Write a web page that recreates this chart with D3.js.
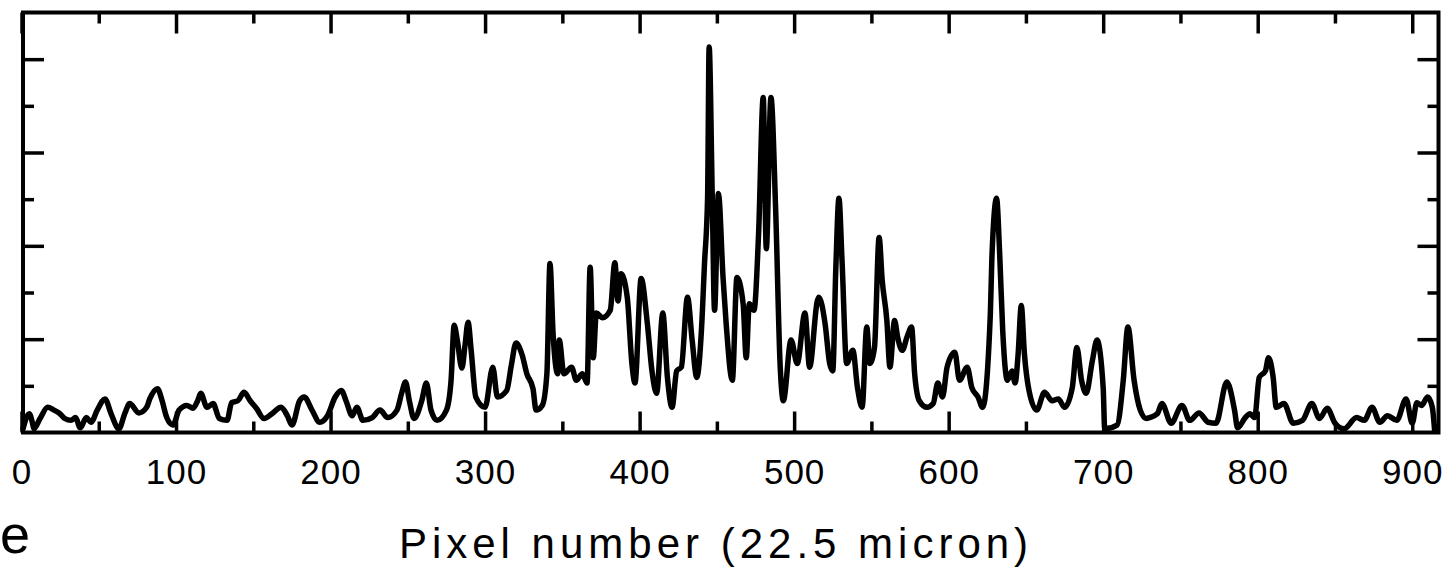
<!DOCTYPE html>
<html>
<head>
<meta charset="utf-8">
<script src="https://cdn.jsdelivr.net/npm/d3@7"></script>
<style>
  html, body { margin: 0; padding: 0; background: #fff; }
  svg { display: block; }
  .axis text { font-family: "Liberation Sans", Arial, sans-serif; fill: #000; }
</style>
</head>
<body>
<div id="chart"></div>
<script>
// Intensity profile along the detector

// Data
const pixelNum = [
  1, 3, 5, 7, 8, 12, 17, 21, 25, 28, 32, 35, 38, 42, 45, 49, 54, 58, 63, 67,
  70, 76, 81, 83, 88, 91, 94, 98, 102, 107, 111, 114, 116, 120, 124, 128, 133, 136, 140, 144,
  148, 152, 157, 162, 168, 172, 175, 180, 183, 188, 193, 198, 203, 207, 210, 214, 217, 221, 227, 232,
  237, 243, 246, 248.5, 251, 254, 259, 262, 265, 269, 275, 278, 280, 282, 285, 287, 289, 291, 294, 300,
  305, 308, 314, 317, 320, 324, 327, 331, 333, 337, 340, 342, 344, 347, 348, 351, 356, 359, 363, 366,
  368, 370, 372, 376, 381, 384, 386, 388, 392, 395, 397, 401, 405, 408, 411, 415, 418, 421, 424, 427,
  431, 434, 437, 440, 442, 444, 445, 447, 448.5, 451, 454, 456, 460, 463, 467, 469, 471, 474, 477, 480,
  482, 485, 488, 491, 493, 498, 502, 507, 510, 515, 516, 520, 523, 525, 527, 529, 531, 534, 538, 541,
  544, 547, 549, 552, 555, 557, 560, 562, 565, 567, 570, 573, 576, 578, 581, 586, 590, 593, 596, 599,
  604, 607, 612, 615, 619, 622, 627, 628, 631, 633, 635, 638, 641, 643, 645, 647, 649, 652, 657, 662,
  667, 671, 675, 680, 683, 686, 689, 693, 696, 700, 701, 709, 713, 716, 720, 724, 728, 730, 735, 738,
  744, 751, 756, 762, 768, 773, 780, 785, 787, 792, 795, 798, 801, 805, 807, 810, 812, 817, 823, 829,
  835, 840, 845, 850, 856, 864, 869, 874, 879, 884, 890, 896, 900, 903, 906, 910, 913, 914.5
];
const intensity = [
  0.04, 0.15, 0.20, 0.11, 0.04, 0.15, 0.27, 0.24, 0.20, 0.15, 0.13, 0.16, 0.05, 0.16, 0.11, 0.24, 0.36, 0.20, 0.04, 0.21,
  0.31, 0.21, 0.27, 0.36, 0.47, 0.34, 0.16, 0.08, 0.24, 0.29, 0.26, 0.34, 0.42, 0.27, 0.31, 0.15, 0.13, 0.32, 0.34, 0.43,
  0.34, 0.26, 0.15, 0.20, 0.27, 0.18, 0.08, 0.34, 0.38, 0.24, 0.11, 0.18, 0.38, 0.45, 0.34, 0.18, 0.27, 0.13, 0.16, 0.24,
  0.16, 0.24, 0.42, 0.54, 0.34, 0.15, 0.34, 0.53, 0.24, 0.13, 0.24, 0.56, 1.15, 0.99, 0.69, 0.93, 1.18, 0.88, 0.38, 0.27,
  0.70, 0.38, 0.45, 0.72, 0.96, 0.83, 0.63, 0.47, 0.24, 0.29, 0.63, 1.81, 1.06, 0.63, 0.99, 0.63, 0.70, 0.56, 0.63, 0.53,
  1.77, 0.80, 1.28, 1.23, 1.31, 1.82, 1.41, 1.70, 1.45, 0.74, 0.53, 1.65, 1.17, 0.66, 0.42, 1.28, 0.59, 0.27, 0.66, 0.70,
  1.45, 0.99, 0.59, 1.09, 1.81, 2.52, 4.13, 2.54, 1.31, 2.56, 1.66, 1.17, 0.56, 1.66, 1.38, 0.80, 1.38, 1.31, 2.13, 3.59,
  1.97, 3.59, 2.41, 0.70, 0.34, 0.99, 0.74, 1.28, 0.70, 1.41, 1.45, 1.17, 0.74, 0.66, 1.77, 2.51, 1.84, 0.74, 0.88, 0.48,
  0.27, 1.13, 0.74, 0.91, 2.09, 1.63, 1.20, 0.70, 1.20, 1.02, 0.88, 1.02, 1.13, 0.63, 0.34, 0.27, 0.31, 0.53, 0.38, 0.70,
  0.86, 0.56, 0.70, 0.48, 0.38, 0.27, 1.28, 1.88, 2.51, 1.92, 1.09, 0.56, 0.66, 0.53, 0.85, 1.36, 0.85, 0.45, 0.24, 0.43,
  0.34, 0.36, 0.27, 0.48, 0.91, 0.56, 0.42, 0.77, 0.99, 0.48, 0.04, 0.08, 0.56, 1.13, 0.56, 0.24, 0.15, 0.16, 0.20, 0.31,
  0.10, 0.29, 0.13, 0.21, 0.11, 0.10, 0.54, 0.24, 0.05, 0.16, 0.20, 0.16, 0.59, 0.66, 0.80, 0.59, 0.27, 0.31, 0.10, 0.13,
  0.31, 0.15, 0.26, 0.10, 0.04, 0.16, 0.13, 0.27, 0.11, 0.18, 0.13, 0.36, 0.10, 0.32, 0.29, 0.38, 0.27, 0.02
];

// Axis ticks
const xTicks = [0, 100, 200, 300, 400, 500, 600, 700, 800, 900];
const xMinorTicks = [50, 150, 250, 350, 450, 550, 650, 750, 850];
const yTicks = [1, 2, 3, 4];
const yMinorTicks = [0.5, 1.5, 2.5, 3.5];
const xTitle = 'Pixel number (22.5 micron)';

const config = {
  width: 1443,
  height: 573,
  left: 23,
  right: 1438.5,
  top: 12.5,
  bottom: 432.5,
  majorLen: 21,
  minorLen: 11
};

const svg = d3.select('#chart')
  .append('svg')
  .attr('width', config.width)
  .attr('height', config.height);

const x = d3.scaleLinear()
  .domain([0, 917])
  .range([21.5, config.right]);

const y = d3.scaleLinear()
  .domain([0, 4.5])
  .range([config.bottom, config.top]);

// helper to draw a tick set
function drawAxis(axis, tx, ty, withLabels) {
  const g = svg.append('g')
    .attr('class', 'axis')
    .attr('transform', `translate(${tx},${ty})`)
    .call(axis);
  g.select('.domain').remove();
  g.selectAll('line').attr('stroke', '#000').attr('stroke-width', 3.5);
  if (!withLabels) g.selectAll('text').remove();
  return g;
}

// bottom axis (labels + major ticks)
const bottomAxis = drawAxis(
  d3.axisBottom(x).tickValues(xTicks).tickSizeInner(-config.majorLen).tickSizeOuter(0)
    .tickPadding(27).tickFormat(d3.format('d')),
  0, config.bottom, true);
bottomAxis.selectAll('text').attr('font-size', 35).attr('letter-spacing', 1);

drawAxis(d3.axisBottom(x).tickValues(xMinorTicks).tickSizeInner(-config.minorLen).tickSizeOuter(0), 0, config.bottom, false);
drawAxis(d3.axisTop(x).tickValues(xTicks).tickSizeInner(-config.majorLen).tickSizeOuter(0), 0, config.top, false);
drawAxis(d3.axisTop(x).tickValues(xMinorTicks).tickSizeInner(-config.minorLen).tickSizeOuter(0), 0, config.top, false);

drawAxis(d3.axisLeft(y).tickValues(yTicks).tickSizeInner(-config.majorLen).tickSizeOuter(0), config.left, 0, false);
drawAxis(d3.axisLeft(y).tickValues(yMinorTicks).tickSizeInner(-config.minorLen).tickSizeOuter(0), config.left, 0, false);
drawAxis(d3.axisRight(y).tickValues(yTicks).tickSizeInner(-config.majorLen).tickSizeOuter(0), config.right, 0, false);
drawAxis(d3.axisRight(y).tickValues(yMinorTicks).tickSizeInner(-config.minorLen).tickSizeOuter(0), config.right, 0, false);

// the trace
const points = pixelNum.map((p, i) => [p, intensity[i]]);
const line = d3.line()
  .curve(d3.curveMonotoneX)
  .x(d => x(d[0]))
  .y(d => y(d[1]));

svg.append('path')
  .datum(points)
  .attr('d', line)
  .attr('fill', 'none')
  .attr('stroke', '#000')
  .attr('stroke-width', 5.5)
  .attr('stroke-linejoin', 'round')
  .attr('stroke-linecap', 'round');

// frame
svg.append('rect')
  .attr('x', config.left)
  .attr('y', config.top)
  .attr('width', config.right - config.left)
  .attr('height', config.bottom - config.top)
  .attr('fill', 'none')
  .attr('stroke', '#000')
  .attr('stroke-width', 4);

// axis title
svg.append('text')
  .attr('x', 716)
  .attr('y', 558)
  .attr('text-anchor', 'middle')
  .attr('font-family', '"Liberation Sans", Arial, sans-serif')
  .attr('font-size', 42)
  .attr('letter-spacing', 5)
  .text(xTitle);

// fragment of a cut-off label at the lower left
svg.append('text')
  .attr('x', 0)
  .attr('y', 553)
  .attr('font-family', '"Liberation Sans", Arial, sans-serif')
  .attr('font-size', 54)
  .text('e');
</script>
</body>
</html>
